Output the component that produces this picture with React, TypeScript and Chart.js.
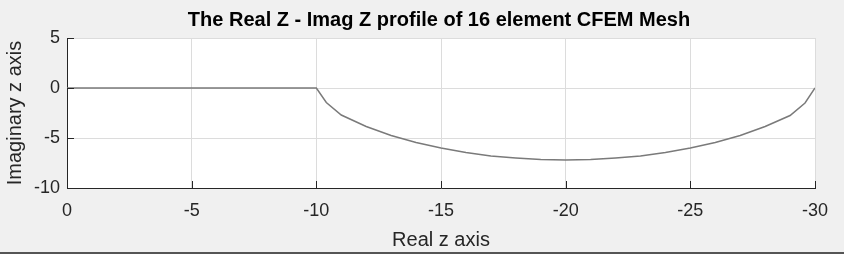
import React, { useEffect, useRef } from 'react';
import { Chart, registerables } from 'chart.js';

Chart.register(...registerables);

const chartTitle = 'The Real Z - Imag Z profile of 16 element CFEM Mesh';
const xAxisLabel = 'Real z axis';
const yAxisLabel = 'Imaginary z axis';

// Mesh node coordinates
const realZ = [0, -5, -10, -10.4, -11, -12, -13, -14, -15, -16, -17, -18, -19, -20, -21, -22, -23, -24, -25, -26, -27, -28, -29, -29.6, -30];
const imagZ = [0, 0, 0, -1.45, -2.7, -3.85, -4.75, -5.45, -6.0, -6.45, -6.8, -7.0, -7.15, -7.2, -7.15, -7.0, -6.8, -6.45, -6.0, -5.45, -4.75, -3.85, -2.75, -1.5, 0];

const xMin = -30;
const xMax = 0;
const yMin = -10;
const yMax = 5;
const tickStep = 5;

const FONT = 'Arial, "Liberation Sans", Helvetica, sans-serif';

export default function App() {
  const canvasRef = useRef<HTMLCanvasElement | null>(null);

  useEffect(() => {
    document.body.style.margin = '0';
    document.body.style.background = '#f0f0f0';
    const canvas = canvasRef.current;
    if (!canvas) return;

    const bgPlugin = {
      id: 'bgPlugin',
      beforeDraw(chart: any) {
        const { ctx, chartArea, width, height } = chart;
        ctx.save();
        ctx.fillStyle = '#f0f0f0';
        ctx.fillRect(0, 0, width, height);
        ctx.fillStyle = '#ffffff';
        ctx.fillRect(chartArea.left, chartArea.top, chartArea.right - chartArea.left, chartArea.bottom - chartArea.top);
        ctx.fillStyle = '#555555';
        ctx.fillRect(0, height - 2, width, 2);
        ctx.restore();
      },
    };

    const decoPlugin = {
      id: 'decoPlugin',
      afterDraw(chart: any) {
        const { ctx, chartArea } = chart;
        const xs = chart.scales.x;
        const ys = chart.scales.y;
        ctx.save();
        ctx.strokeStyle = '#262626';
        ctx.lineWidth = 1;
        const len = 7;
        xs.ticks.forEach((t: any) => {
          const px = Math.round(xs.getPixelForValue(t.value)) + 0.5;
          ctx.beginPath();
          ctx.moveTo(px, chartArea.bottom);
          ctx.lineTo(px, chartArea.bottom - len);
          ctx.stroke();
        });
        ys.ticks.forEach((t: any) => {
          const py = Math.round(ys.getPixelForValue(t.value)) + 0.5;
          ctx.beginPath();
          ctx.moveTo(chartArea.left, py);
          ctx.lineTo(chartArea.left + len, py);
          ctx.stroke();
        });
        ctx.fillStyle = '#000000';
        ctx.font = 'bold 20px ' + FONT;
        ctx.textAlign = 'center';
        ctx.textBaseline = 'alphabetic';
        ctx.fillText(chartTitle, (chartArea.left + chartArea.right) / 2 - 2, 26);
        ctx.restore();
      },
    };

    const chart = new Chart(canvas, {
      type: 'scatter',
      data: {
        datasets: [
          {
            data: realZ.map((x, i) => ({ x, y: imagZ[i] })),
            showLine: true,
            borderColor: '#7a7a7a',
            borderWidth: 1.5,
            pointRadius: 0,
            tension: 0,
            fill: false,
          },
        ],
      },
      options: {
        animation: false,
        responsive: false,
        devicePixelRatio: 1,
        layout: { padding: { left: 0, right: 29, top: 38, bottom: 0 } },
        plugins: {
          legend: { display: false },
          title: { display: false },
          tooltip: { enabled: false },
        },
        scales: {
          x: {
            type: 'linear',
            min: xMin,
            max: xMax,
            reverse: true,
            afterFit(scale: any) {
              scale.height = 66;
            },
            ticks: {
              stepSize: tickStep,
              color: '#262626',
              font: { family: FONT, size: 18 },
              padding: 12,
              maxRotation: 0,
            },
            grid: { color: '#dcdcdc', lineWidth: 1, drawTicks: false, tickLength: 0 },
            border: { display: true, color: '#262626', width: 1 },
            title: {
              display: true,
              text: xAxisLabel,
              color: '#262626',
              font: { family: FONT, size: 20 },
              padding: { top: 0, bottom: 2 },
            },
          },
          y: {
            type: 'linear',
            min: yMin,
            max: yMax,
            afterFit(scale: any) {
              scale.width = 67;
            },
            ticks: {
              stepSize: tickStep,
              color: '#262626',
              font: { family: FONT, size: 18 },
              padding: 7,
            },
            grid: { color: '#dcdcdc', lineWidth: 1, drawTicks: false, tickLength: 0 },
            border: { display: true, color: '#262626', width: 1 },
            title: {
              display: true,
              text: yAxisLabel,
              color: '#262626',
              font: { family: FONT, size: 20 },
              padding: { top: 3, bottom: 0 },
            },
          },
        },
      },
      plugins: [bgPlugin, decoPlugin],
    });

    return () => {
      chart.destroy();
    };
  }, []);

  return (
    <div style={{ width: 844, height: 254, background: '#f0f0f0' }}>
      <canvas ref={canvasRef} width={844} height={254} style={{ display: 'block', width: 844, height: 254 }} />
    </div>
  );
}
